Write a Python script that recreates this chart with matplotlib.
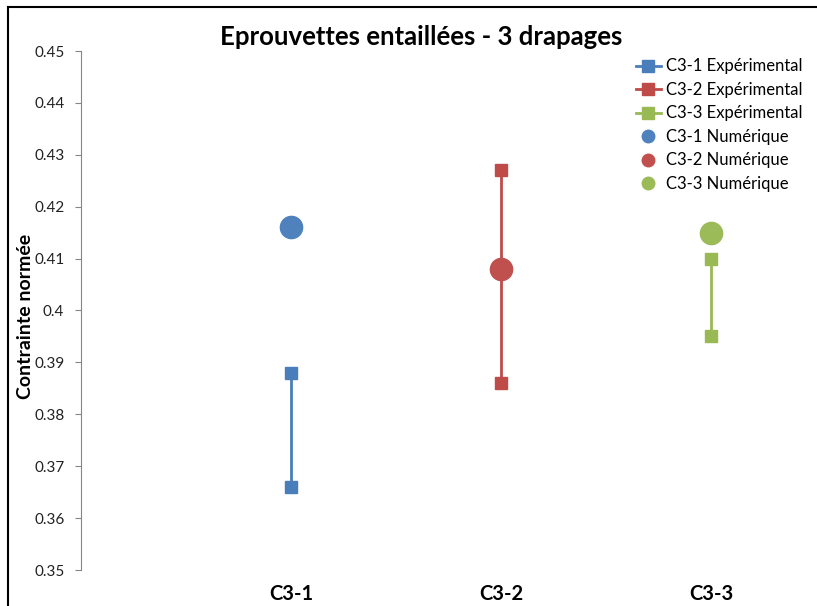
import matplotlib
matplotlib.use("Agg")
from matplotlib import pyplot as plt
from matplotlib.lines import Line2D

plt.rcParams["font.family"] = ["Lato", "DejaVu Sans"]

categories = ["C3-1", "C3-2", "C3-3"]
exp_low = [0.366, 0.386, 0.395]
exp_high = [0.388, 0.427, 0.410]
numerique = [0.416, 0.408, 0.415]
colors = ["#4A7EBB", "#BE4B48", "#98B954"]
dot_colors = ["#4F81BD", "#C0504D", "#9BBB59"]
yticks = [0.35, 0.36, 0.37, 0.38, 0.39, 0.40, 0.41, 0.42, 0.43, 0.44, 0.45]
ytick_labels = ["0.35", "0.36", "0.37", "0.38", "0.39", "0.4", "0.41", "0.42", "0.43", "0.44", "0.45"]

fig = plt.figure(figsize=(8.17, 6.06), dpi=100)
ax = fig.add_axes([81 / 817, 1 - 570 / 606, 735 / 817, 519 / 606])

handles = []
labels = []
for i, cat in enumerate(categories):
    x = i + 1
    ax.plot([x, x], [exp_low[i], exp_high[i]], color=colors[i], lw=2,
            marker="s", ms=9, mec=colors[i], mfc=colors[i], zorder=2)
    handles.append(Line2D([], [], color=colors[i], lw=2, marker="s", ms=9))
    labels.append(cat + " Expérimental")
for i, cat in enumerate(categories):
    x = i + 1
    ax.plot([x], [numerique[i]], ls="none", marker="o", ms=16,
            color=dot_colors[i], zorder=3)
    handles.append(Line2D([], [], ls="none", marker="o", ms=9, color=dot_colors[i]))
    labels.append(cat + " Numérique")

ax.set_xlim(0, 3.5)
ax.set_ylim(0.35, 0.45)
ax.set_yticks(yticks)
ax.set_yticklabels(ytick_labels, fontsize=11, color="#222222")
ax.set_xticks([1, 2, 3])
ax.set_xticklabels(categories, fontsize=14.5, fontweight="bold")
ax.tick_params(axis="x", length=0, pad=10)
ax.tick_params(axis="y", direction="out", length=4, color="#868686", pad=8)
for side in ["top", "right", "bottom"]:
    ax.spines[side].set_visible(False)
ax.spines["left"].set_color("#868686")

fig.text(26 / 817, 1 - 316 / 606, "Contrainte normée", rotation=90,
         ha="center", va="center", fontsize=14, fontweight="bold")
fig.text(0.515, 1 - 37 / 606, "Eprouvettes entaillées - 3 drapages",
         ha="center", va="center", fontsize=18.5, fontweight="bold")

leg = ax.legend(handles, labels, loc="upper right", bbox_to_anchor=(0.995, 1.005),
                frameon=False, fontsize=12, handlelength=1.5, handletextpad=0.3,
                labelspacing=0.45, borderaxespad=0.2)

# chart border (only left and top edges are visible in the crop)
fig.add_artist(Line2D([8 / 817, 8 / 817], [0, 1 - 7 / 606], transform=fig.transFigure,
                      color="black", lw=1.5))
fig.add_artist(Line2D([8 / 817, 1], [1 - 7 / 606, 1 - 7 / 606], transform=fig.transFigure,
                      color="black", lw=1.5))

fig.savefig("out.png", dpi=100)
